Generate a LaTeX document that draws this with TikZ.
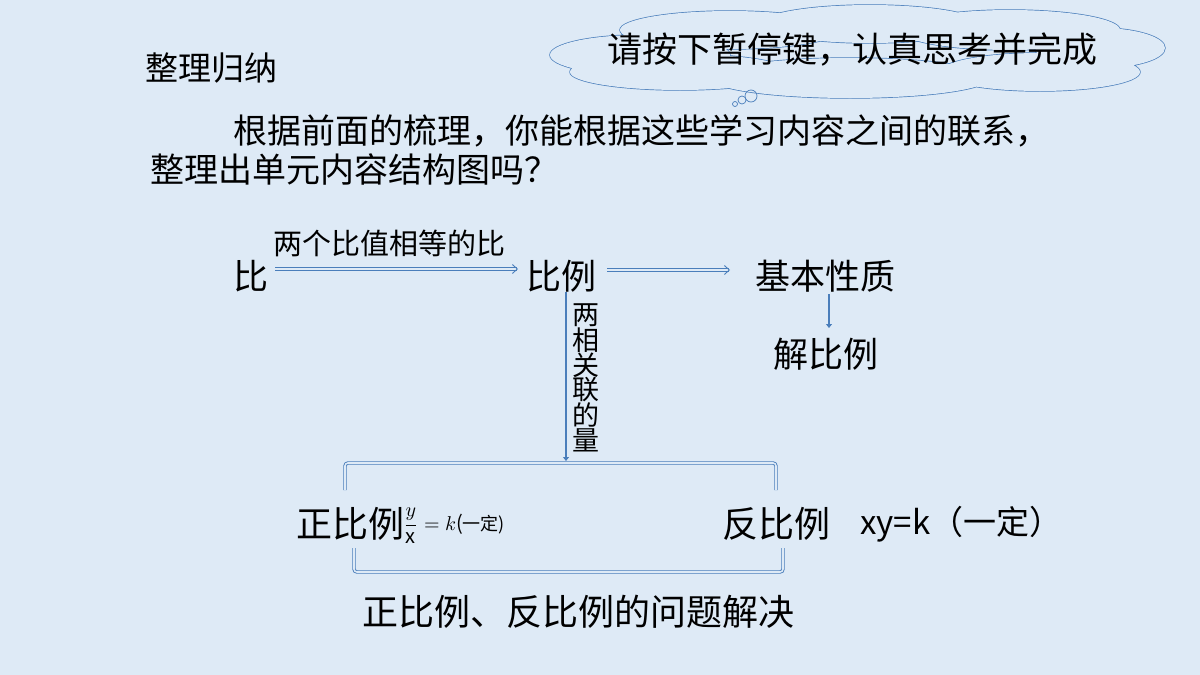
\documentclass[tikz,border=0pt]{standalone}
\usepackage{fontspec}
\setmainfont{Noto Sans CJK SC}
\usetikzlibrary{arrows.meta}
\definecolor{bg}{HTML}{DEEAF6}
\definecolor{ln}{HTML}{4A7EBB}
\begin{document}
\begin{tikzpicture}[x=1pt,y=-1pt,
  t/.style={inner sep=0pt,anchor=west,font=\fontsize{#1}{#1}\selectfont},
  dbl/.style={draw=ln,line width=0.9pt,double=bg,double distance=1.6pt},
  arr/.style={dbl,-{Straight Barb[length=5pt,width=9pt]}}]
\fill[bg] (0,0) rectangle (1200,675);
\node[t=33] (title) at (145,68) {整理归纳};
\node[t=34] (p1) at (233,131) {根据前面的梳理，你能根据这些学习内容之间的联系，};
\node[t=34] (p2) at (150,169) {整理出单元内容结构图吗？};
% cloud
\def\puffs{(640,55) ellipse (90 and 20) (730,30) ellipse (110 and 19) (870,24) ellipse (110 and 19)
  (1010,30) ellipse (110 and 20) (1100,48) ellipse (65 and 20) (1040,72) ellipse (100 and 19)
  (850,78) ellipse (140 and 20) (680,72) ellipse (110 and 18)}
\draw[ln,line width=1.4pt] \puffs;
\fill[bg] \puffs;
\node[t=35] (ct) at (607,50) {请按下暂停键，认真思考并完成};
\node[circle,draw=ln,inner sep=0pt,minimum size=12,line width=0.7pt] (b1c) at (751,96) {};
\node[circle,draw=ln,inner sep=0pt,minimum size=8,line width=0.7pt] (b2) at (742,100) {};
\node[circle,draw=ln,inner sep=0pt,minimum size=5,line width=0.7pt] (b3) at (735,104) {};
% top row
\node[t=35] (bi) at (233,276) {比};
\node[t=29] (lab) at (273,243) {两个比值相等的比};
\node[t=35] (bl) at (526,276) {比例};
\node[t=35] (jb) at (755,276) {基本性质};
\node[t=35] (jbl) at (773,354) {解比例};
\coordinate (a1) at (275,269); \coordinate (a2) at (518,269);
\draw[arr] (a1) -- (a2);
\coordinate (b1) at (607,270); \coordinate (b2e) at (730,270);
\draw[arr] (b1) -- (b2e);
\coordinate (c1) at (829,294); \coordinate (c2) at (829,328);
\draw[ln,line width=1.6pt,-{Triangle[length=4pt,width=6pt]}] (c1) -- (c2);
\coordinate (v1) at (566,292); \coordinate (v2) at (566,461);
\draw[ln,line width=1.6pt,-{Triangle[length=4pt,width=6pt]}] (v1) -- (v2);
\foreach \c [count=\i] in {两,相,关,联,的,量}
  \node[inner sep=0pt,font=\fontsize{27}{27}\selectfont] (vt\i) at (586,290+\i*25) {\c};
% brackets
\coordinate (k1) at (345,490); \coordinate (k2) at (345,463);
\coordinate (k3) at (776,463); \coordinate (k4) at (776,490);
\draw[dbl,rounded corners=3pt] (k1) -- (k2) -- (k3) -- (k4);
\coordinate (m1) at (354,548); \coordinate (m2) at (354,572);
\coordinate (m3) at (783,572); \coordinate (m4) at (783,548);
\draw[dbl,rounded corners=3pt] (m1) -- (m2) -- (m3) -- (m4);
\node[t=36] (zb) at (296,524) {正比例};
\node[inner sep=0pt,anchor=west] (fr) at (403,526)
  {\scalebox{2}{$\displaystyle\frac{y}{\mathrm{x}}=k$(\fontsize{9}{9}\selectfont 一定)}};
\node[t=36] (fb) at (722,524) {反比例};
\node[t=33] (xy) at (860,524) {xy=k（一定）};
\node[t=36] (wt) at (362,612) {正比例、反比例的问题解决};
\end{tikzpicture}
\end{document}
